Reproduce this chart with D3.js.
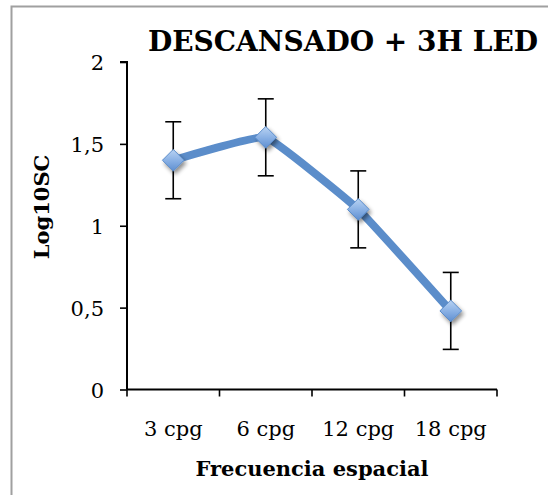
<!DOCTYPE html>
<html>
<head>
<meta charset="utf-8">
<script src="https://cdn.jsdelivr.net/npm/d3@7"></script>
<style>
  html, body { margin: 0; padding: 0; background: #fff; }
  svg { display: block; }
  text { font-family: "DejaVu Serif", "Liberation Serif", serif; fill: #000; }
</style>
</head>
<body>
<svg id="chart" width="548" height="495"></svg>
<script>
// Spatial-frequency categories and measured contrast sensitivity (log10)
const categories = ["3 cpg", "6 cpg", "12 cpg", "18 cpg"];
const values = [1.40, 1.54, 1.10, 0.48];
const errors = [0.235, 0.235, 0.235, 0.235];
const yTicks = [0, 0.5, 1, 1.5, 2];
const title = "DESCANSADO + 3H LED";
const xTitle = "Frecuencia espacial";
const yTitle = "Log10SC";

const svg = d3.select("#chart");
const fmt = d => d3.format("")(d).replace(".", ",");

// Outer frame
svg.append("rect")
  .attr("x", 11.5).attr("y", 6.5)
  .attr("width", 560).attr("height", 520)
  .attr("fill", "none").attr("stroke", "#a0a0a0").attr("stroke-width", 2);

const plot = { left: 127, right: 497, top: 62, bottom: 389.5 };

const x = d3.scaleBand().domain(categories).range([plot.left, plot.right]).paddingInner(0).paddingOuter(0);
const y = d3.scaleLinear().domain([0, 2]).range([plot.bottom, plot.top]);

// Defs: marker gradient and shadow
const defs = svg.append("defs");
const grad = defs.append("linearGradient").attr("id", "mk").attr("x1", 0).attr("y1", 0).attr("x2", 0).attr("y2", 1);
grad.append("stop").attr("offset", "0%").attr("stop-color", "#b9d3f3");
grad.append("stop").attr("offset", "55%").attr("stop-color", "#86aee3");
grad.append("stop").attr("offset", "100%").attr("stop-color", "#5f8fd0");
const sh = defs.append("filter").attr("id", "shadow").attr("x", "-50%").attr("y", "-50%").attr("width", "200%").attr("height", "200%");
sh.append("feGaussianBlur").attr("in", "SourceAlpha").attr("stdDeviation", 2.2).attr("result", "b");
sh.append("feOffset").attr("in", "b").attr("dx", 1.5).attr("dy", 2.5).attr("result", "o");
sh.append("feComponentTransfer").attr("in", "o").attr("result", "s")
  .append("feFuncA").attr("type", "linear").attr("slope", 0.45);
const m = sh.append("feMerge");
m.append("feMergeNode").attr("in", "s");
m.append("feMergeNode").attr("in", "SourceGraphic");

// Y axis
const yAxis = d3.axisLeft(y).tickValues(yTicks).tickFormat(fmt).tickSize(7).tickPadding(16);
const gy = svg.append("g").attr("transform", `translate(${plot.left},0)`).call(yAxis);
gy.select(".domain").attr("stroke", "#000").attr("stroke-width", 2).attr("d", `M-7,${plot.top}H0V${plot.bottom}`);
gy.selectAll(".tick line").attr("stroke", "#000").attr("stroke-width", 1.6);
gy.selectAll(".tick text").attr("font-size", 21).attr("font-family", "DejaVu Serif").attr("fill", "#000")
  .attr("dy", "0.36em");

// X axis with ticks on category boundaries
const xAxis = d3.axisBottom(x).tickSize(0).tickPadding(0);
const gx = svg.append("g").attr("transform", `translate(0,${plot.bottom})`).call(xAxis);
gx.select(".domain").attr("stroke", "#000").attr("stroke-width", 2).attr("d", `M${plot.left},0H${plot.right}`);
gx.selectAll(".tick text").attr("font-size", 21).attr("font-family", "DejaVu Serif").attr("fill", "#000")
  .attr("dy", null).attr("y", 46);
const bounds = categories.map(c => x(c)).concat([x(categories[categories.length - 1]) + x.bandwidth()]);
gx.selectAll(".bound").data(bounds).enter().append("line")
  .attr("x1", d => d).attr("x2", d => d).attr("y1", 0).attr("y2", 7)
  .attr("stroke", "#000").attr("stroke-width", 1.6);

const cx = c => x(c) + x.bandwidth() / 2;

// Series line (lightly smoothed)
const line = d3.line().x((d, i) => cx(categories[i])).y(d => y(d)).curve(d3.curveCardinal.tension(0.7));
svg.append("path").datum(values).attr("d", line)
  .attr("fill", "none").attr("stroke", "#5b8dca").attr("stroke-width", 8).attr("stroke-linecap", "round");

// Error bars
const eb = svg.append("g").attr("stroke", "#000").attr("stroke-width", 1.6);
values.forEach((v, i) => {
  const px = cx(categories[i]);
  const y1 = y(v + errors[i]), y2 = y(v - errors[i]);
  eb.append("line").attr("x1", px).attr("x2", px).attr("y1", y1).attr("y2", y2);
  eb.append("line").attr("x1", px - 8).attr("x2", px + 8).attr("y1", y1).attr("y2", y1);
  eb.append("line").attr("x1", px - 8).attr("x2", px + 8).attr("y1", y2).attr("y2", y2);
});

// Diamond markers
const sym = d3.symbol().type(d3.symbolDiamond2).size(300);
svg.append("g").selectAll("path").data(values).enter().append("path")
  .attr("d", sym)
  .attr("transform", (d, i) => `translate(${cx(categories[i])},${y(d)})`)
  .attr("fill", "url(#mk)").attr("stroke", "#5a8cca").attr("stroke-width", 1)
  .attr("filter", "url(#shadow)");

// Titles
svg.append("text").attr("x", 343).attr("y", 51).attr("text-anchor", "middle")
  .attr("font-size", 28).attr("font-weight", "bold").text(title);
svg.append("text").attr("x", 312).attr("y", 476).attr("text-anchor", "middle")
  .attr("font-size", 21).attr("font-weight", "bold").text(xTitle);
svg.append("text").attr("transform", "translate(49,207) rotate(-90)").attr("text-anchor", "middle")
  .attr("font-size", 21).attr("font-weight", "bold").text(yTitle);
</script>
</body>
</html>
